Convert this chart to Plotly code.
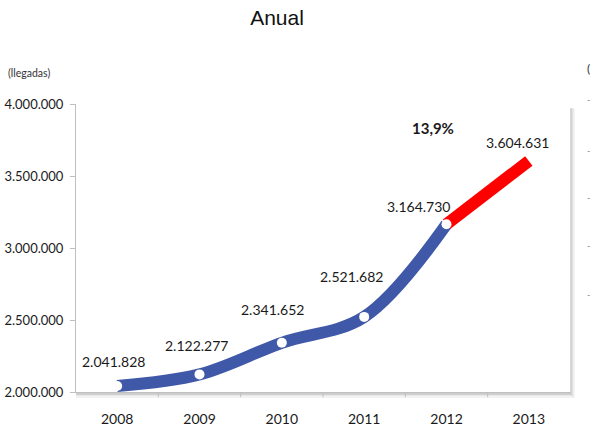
import plotly.graph_objects as go

# Annual arrivals
years = ["2008", "2009", "2010", "2011", "2012", "2013"]
arrivals = [2041828, 2122277, 2341652, 2521682, 3164730, 3604631]
value_labels = ["2.041.828", "2.122.277", "2.341.652", "2.521.682", "3.164.730", "3.604.631"]
growth_label = "13,9%"
y_ticks = [2000000, 2500000, 3000000, 3500000, 4000000]
y_tick_labels = ["2.000.000", "2.500.000", "3.000.000", "3.500.000", "4.000.000"]

BLUE = "#4058A8"
RED = "#FF0000"
TEXT_FONT = "Lato, Liberation Sans, sans-serif"

idx = list(range(len(years)))

fig = go.Figure()

# historical series (smoothed)
fig.add_trace(go.Scatter(
    x=idx[:5], y=arrivals[:5], mode="lines",
    line=dict(color=BLUE, width=12, shape="spline", smoothing=1.0),
    hoverinfo="skip", showlegend=False,
))
# last year in red
fig.add_trace(go.Scatter(
    x=idx[4:], y=arrivals[4:], mode="lines",
    line=dict(color=RED, width=12),
    hoverinfo="skip", showlegend=False,
))
# white point markers
fig.add_trace(go.Scatter(
    x=idx[:5], y=arrivals[:5], mode="markers",
    marker=dict(color="white", size=10, line=dict(width=0)),
    hoverinfo="skip", showlegend=False,
))

# value labels, each nudged off its point
label_offsets = [(-4, 24), (-3, 29), (-9, 33), (-13, 40), (-28, 18), (-11, 18)]
for i, val, txt, (dx, dy) in zip(idx, arrivals, value_labels, label_offsets):
    fig.add_annotation(
        x=i, y=val, text=txt, showarrow=False,
        xshift=dx, yshift=dy,
        font=dict(family=TEXT_FONT, size=14, color="#1a1a1a"),
    )

fig.add_annotation(
    xref="paper", yref="paper", x=0.723, y=0.917, xanchor="center", yanchor="middle",
    text=f"<b>{growth_label}</b>",
    showarrow=False, font=dict(family=TEXT_FONT, size=15, color="#1a1a1a"),
)

# unit label
fig.add_annotation(
    xref="paper", yref="paper", x=-0.142, y=1.108, xanchor="left", yanchor="middle",
    text="(llegadas)", showarrow=False,
    font=dict(family=TEXT_FONT, size=10.5, color="#333333"),
)

# remnants of the neighbouring panel at the right edge
fig.add_annotation(
    xref="paper", yref="paper", x=1.037, y=1.125, xanchor="center", yanchor="middle",
    text="(", showarrow=False, font=dict(family=TEXT_FONT, size=12, color="#333333"),
)
for yp in [1.014, 0.84, 0.674, 0.507, 0.34]:
    fig.add_annotation(
        xref="paper", yref="paper", x=1.038, y=yp, xanchor="center", yanchor="middle",
        text="-", showarrow=False, font=dict(family=TEXT_FONT, size=9, color="#888888"),
    )

# soft drop shadow along the right and bottom edges of the plot area
for i, c in enumerate(["#bdbdbd", "#d0d0d0", "#e0e0e0", "#eeeeee"]):
    fig.add_shape(type="line", xref="paper", yref="paper",
                  x0=1.0 + (i + 1) * 0.002, x1=1.0 + (i + 1) * 0.002,
                  y0=-0.01 - i * 0.004, y1=0.985,
                  line=dict(color=c, width=1.2), layer="below")
    fig.add_shape(type="line", xref="paper", yref="paper",
                  x0=0.0, x1=1.0 + (i + 1) * 0.002,
                  y0=-0.004 - i * 0.0045, y1=-0.004 - i * 0.0045,
                  line=dict(color=c, width=1.2), layer="below")

fig.update_layout(
    width=592, height=431,
    margin=dict(l=76, r=22, t=104, b=39),
    paper_bgcolor="white", plot_bgcolor="white",
    title=dict(text="Anual", x=0.468, xanchor="center", y=0.96, yanchor="middle",
               font=dict(family="Liberation Sans, Arial, sans-serif", size=21, color="#111111")),
    xaxis=dict(
        range=[-0.5, 5.5], automargin=False,
        tickvals=idx, ticktext=years,
        showline=True, linecolor="#bfbfbf", linewidth=1,
        ticks="", showgrid=False, zeroline=False, ticklabelstandoff=14,
        tickfont=dict(family=TEXT_FONT, size=14, color="#1a1a1a"),
        fixedrange=True,
    ),
    yaxis=dict(
        range=[2000000, 4000000], automargin=False,
        tickvals=y_ticks, ticktext=y_tick_labels,
        showline=True, linecolor="#bfbfbf", linewidth=1,
        ticks="outside", ticklen=5, tickcolor="#bfbfbf", ticklabelstandoff=4,
        showgrid=False, zeroline=False,
        tickfont=dict(family=TEXT_FONT, size=13, color="#1a1a1a"),
        fixedrange=True,
    ),
)

# category boundary ticks on the x axis
for b in [i + 0.5 for i in idx[:-1]]:
    fig.add_shape(type="line", xref="x", yref="paper", x0=b, x1=b, y0=0, y1=-0.018,
                  line=dict(color="#bfbfbf", width=1))

fig.write_html("out.html")
